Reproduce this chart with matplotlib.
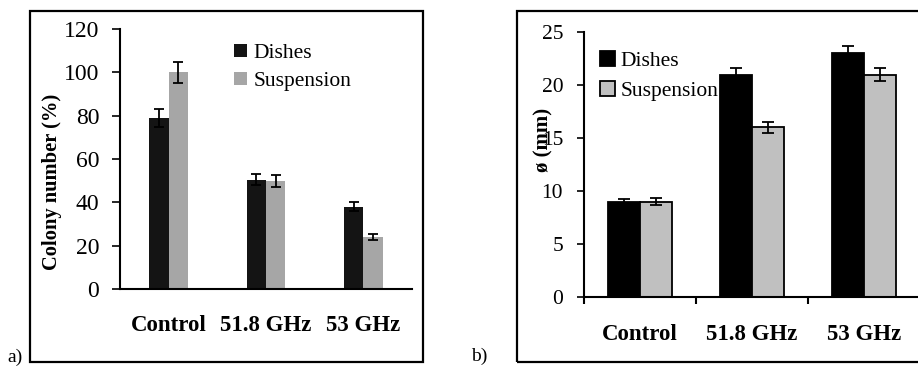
import matplotlib
matplotlib.use('Agg')
from matplotlib import pyplot as plt
from matplotlib.patches import Rectangle
import numpy as np

plt.rcParams['font.family'] = ['Liberation Serif', 'DejaVu Serif']

groups = ['Control', '51.8 GHz', '53 GHz']

# panel a) colony number (%)
colony_dishes = [79, 50.5, 38]
colony_dishes_err = [4, 2.7, 2]
colony_susp = [100, 50, 24]
colony_susp_err = [5, 2.7, 1.2]

# panel b) diameter (mm)
diam_dishes = [9, 21, 23]
diam_dishes_err = [0.2, 0.6, 0.7]
diam_susp = [9, 16, 21]
diam_susp_err = [0.3, 0.5, 0.6]

W, H = 918, 366


def fx(px):
    return px / W


def fy(py):
    return 1 - py / H


fig = plt.figure(figsize=(W / 100, H / 100), dpi=100)

# outer frames
fig.patches.append(Rectangle((fx(30), fy(362)), fx(393), (362 - 11) / H, transform=fig.transFigure,
                             fill=False, lw=1.6, ec='black'))
fig.patches.append(Rectangle((fx(517), fy(362)), fx(420), (362 - 11) / H, transform=fig.transFigure,
                             fill=False, lw=1.6, ec='black', clip_on=False))
fig.text(fx(7), fy(357), 'a)', fontsize=14, va='center', ha='left')
fig.text(fx(471), fy(356), 'b)', fontsize=14, va='center', ha='left')

x = np.arange(len(groups))

# ---- panel a
ax = fig.add_axes([fx(120), fy(289), fx(292), 260 / H])
w = 0.2
ax.bar(x - w / 2, colony_dishes, w, color='#141414', label='Dishes',
       yerr=colony_dishes_err, capsize=3.3, error_kw=dict(elinewidth=1.3, capthick=1.3, ecolor='black'))
ax.bar(x + w / 2, colony_susp, w, color='#a6a6a6', label='Suspension',
       yerr=colony_susp_err, capsize=3.3, error_kw=dict(elinewidth=1.3, capthick=1.3, ecolor='black'))
ax.set_xlim(-0.5, 2.5)
ax.set_ylim(0, 120)
ax.set_yticks(range(0, 121, 20))
ax.set_xticks(x)
ax.set_xticklabels(groups, fontweight='bold', fontsize=16.5)
ax.tick_params(axis='x', length=0, pad=19)
ax.tick_params(axis='y', length=6, width=1.2, labelsize=17, pad=9)
for s in ['top', 'right']:
    ax.spines[s].set_visible(False)
for s in ['left', 'bottom']:
    ax.spines[s].set_linewidth(1.5)
ax.legend(loc='upper left', bbox_to_anchor=(fx(223), fy(33)), bbox_transform=fig.transFigure,
          frameon=False, fontsize=15.5, handlelength=0.6, handleheight=0.6, handletextpad=0.3,
          labelspacing=0.4, borderpad=0)
fig.text(fx(52), fy(182), 'Colony number (%)', rotation=90, fontsize=14.8, fontweight='bold',
         ha='center', va='center')

# ---- panel b
bx = fig.add_axes([fx(584), fy(296.7), fx(336), 264.4 / H])
w = 0.286
bx.bar(x - w / 2, diam_dishes, w, color='black', edgecolor='black', lw=1.3, label='Dishes',
       yerr=diam_dishes_err, capsize=4.2, error_kw=dict(elinewidth=1.3, capthick=1.3, ecolor='black'))
bx.bar(x + w / 2, diam_susp, w, color='#c0c0c0', edgecolor='black', lw=1.3, label='Suspension',
       yerr=diam_susp_err, capsize=4.2, error_kw=dict(elinewidth=1.3, capthick=1.3, ecolor='black'))
bx.set_xlim(-0.5, 2.5)
bx.set_ylim(0, 25)
bx.set_yticks(range(0, 26, 5))
bx.set_xticks(x)
bx.set_xticklabels(groups, fontweight='bold', fontsize=16.5)
bx.set_xticks(np.arange(-0.5, 3, 1), minor=True)
bx.tick_params(axis='x', which='major', length=0, pad=20)
bx.tick_params(axis='x', which='minor', length=5, width=1.5, direction='out')
bx.tick_params(axis='y', length=5, width=1.2, labelsize=15.5, pad=10)
for s in ['top', 'right']:
    bx.spines[s].set_visible(False)
for s in ['left', 'bottom']:
    bx.spines[s].set_linewidth(1.5)
bx.legend(loc='upper left', bbox_to_anchor=(fx(589), fy(40)), bbox_transform=fig.transFigure,
          frameon=False, fontsize=15.5, handlelength=0.7, handleheight=0.7, handletextpad=0.25,
          labelspacing=0.45, borderpad=0)
fig.text(fx(543), fy(140), 'ø (mm)', rotation=90, fontsize=15, fontweight='bold',
         ha='center', va='center')

fig.savefig('out.png', dpi=100)
